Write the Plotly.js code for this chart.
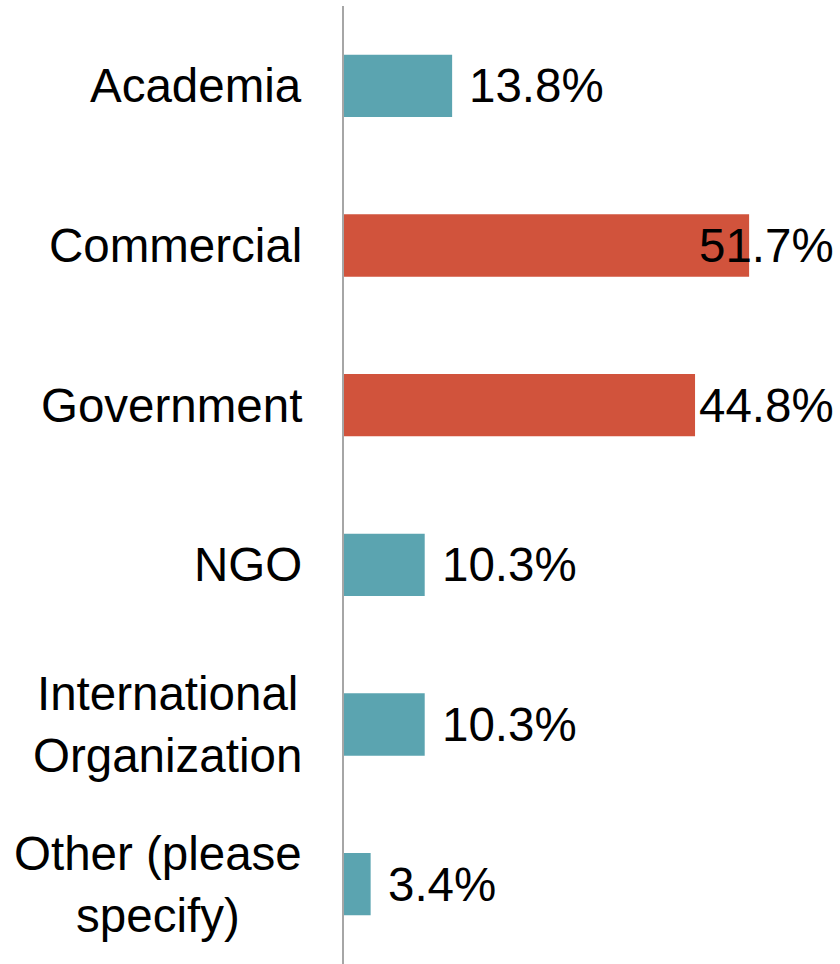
<!DOCTYPE html>
<html>
<head>
<meta charset="utf-8">
<script src="https://cdn.plot.ly/plotly-3.0.1.min.js"></script>
<style>
  body { margin: 0; background: #ffffff; }
  #chart { width: 840px; height: 964px; }
</style>
</head>
<body>
<div id="chart"></div>
<script>
// survey: sector of respondents
const categories = ['Academia', 'Commercial', 'Government', 'NGO',
  'International<br>Organization', 'Other (please<br>specify)'];
const values = [13.8, 51.7, 44.8, 10.3, 10.3, 3.4];
const highlight = [false, true, true, false, false, false];

const teal = '#5BA4B0';
const red = '#D1533C';
const xMax = 63.3;
const fontFamily = '"Liberation Sans", Arial, sans-serif';

const trace = {
  type: 'bar',
  orientation: 'h',
  y: categories,
  x: values,
  width: 0.39,
  marker: { color: highlight.map((h) => (h ? red : teal)) },
  hoverinfo: 'skip',
};

// category labels as annotations so wrapped lines stay centered
const catLabels = categories.map((c) => ({
  xref: 'x', yref: 'y',
  x: 0, y: c,
  text: c,
  showarrow: false,
  xanchor: 'right',
  align: 'center',
  xshift: -40,
  font: { size: 47.5, color: '#000000', family: fontFamily },
}));

// value labels; long bars get pulled back inside the chart edge
const valLabels = values.map((v, i) => {
  const tooLong = v > 40;
  return {
    xref: 'x', yref: 'y',
    x: tooLong ? xMax : v,
    y: categories[i],
    text: v.toFixed(1) + '%',
    showarrow: false,
    xanchor: tooLong ? 'right' : 'left',
    xshift: tooLong ? -4 : 15,
    font: { size: 47.5, color: '#000000', family: fontFamily },
  };
});

const layout = {
  width: 840,
  height: 964,
  margin: { l: 344, r: 0, t: 6, b: 0 },
  paper_bgcolor: '#ffffff',
  plot_bgcolor: '#ffffff',
  showlegend: false,
  font: { family: fontFamily, size: 47.5, color: '#000000' },
  xaxis: {
    range: [0, xMax],
    showgrid: false,
    zeroline: false,
    showticklabels: false,
    ticks: '',
    showline: false,
    fixedrange: true,
  },
  yaxis: {
    autorange: 'reversed',
    showgrid: false,
    zeroline: false,
    showticklabels: false,
    ticks: '',
    showline: true,
    linecolor: '#A6A6A6',
    linewidth: 2,
    fixedrange: true,
  },
  annotations: catLabels.concat(valLabels),
};

Plotly.newPlot('chart', [trace], layout, { displayModeBar: false, staticPlot: true });
</script>
</body>
</html>
